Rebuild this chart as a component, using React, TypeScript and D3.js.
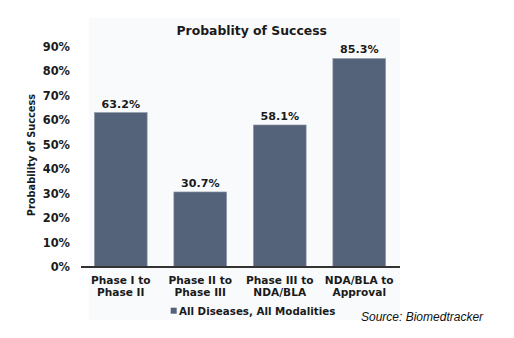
import React from "react";
import * as d3 from "d3";

const categories: string[][] = [
  ["Phase I to", "Phase II"],
  ["Phase II to", "Phase III"],
  ["Phase III to", "NDA/BLA"],
  ["NDA/BLA to", "Approval"],
];
const values: number[] = [63.2, 30.7, 58.1, 85.3];
const yTicks: number[] = [0, 10, 20, 30, 40, 50, 60, 70, 80, 90];
const title = "Probablity of Success";
const yTitle = "Probability of Success";
const legendLabel = "All Diseases, All Modalities";
const source = "Source: Biomedtracker";

const W = 514;
const H = 338;
const FONT = "'DejaVu Sans', Verdana, sans-serif";
const BAR = "#546379";

export default function App() {
  const keys = categories.map((_, i) => String(i));
  const x = d3
    .scaleBand<string>()
    .domain(keys)
    .range([81, 399])
    .paddingInner(0.336)
    .paddingOuter(0.168);
  const y = d3.scaleLinear().domain([0, 90]).range([267, 47]);

  return (
    <svg
      width={W}
      height={H}
      style={{ position: "absolute", left: 0, top: 0, background: "#fff" }}
      fontFamily={FONT}
    >
      <rect x={89} y={18} width={311} height={302} fill="#f9fafc" />
      <text x={251.7} y={34.5} textAnchor="middle" fontWeight="bold" fontSize={12.4} fill="#1a1a1a">
        {title}
      </text>
      {yTicks.map((t) => (
        <text
          key={t}
          x={70}
          y={y(t) + 4}
          textAnchor="end"
          fontWeight="bold"
          fontSize={11.4}
          fill="#1a1a1a"
        >
          {t}%
        </text>
      ))}
      <text
        transform={`translate(35,155) rotate(-90)`}
        textAnchor="middle"
        fontWeight="bold"
        fontSize={9.8}
        fill="#1a1a1a"
      >
        {yTitle}
      </text>
      {values.map((v, i) => (
        <g key={i}>
          <rect
            x={x(String(i))!}
            y={y(v)}
            width={x.bandwidth()}
            height={y(0) - y(v)}
            fill={BAR}
            stroke="#8f9aab"
            strokeWidth={0.6}
          />
          <text
            x={x(String(i))! + x.bandwidth() / 2}
            y={y(v) - 5}
            textAnchor="middle"
            fontWeight="bold"
            fontSize={11.1}
            fill="#1a1a1a"
          >
            {v.toFixed(1)}%
          </text>
          {categories[i].map((line, j) => (
            <text
              key={j}
              x={x(String(i))! + x.bandwidth() / 2}
              y={284 + j * 11.7}
              textAnchor="middle"
              fontWeight="bold"
              fontSize={10.6}
              fill="#1a1a1a"
            >
              {line}
            </text>
          ))}
        </g>
      ))}
      <line x1={81} x2={400} y1={267} y2={267} stroke="#333" strokeWidth={2} />
      <rect x={170.7} y={307.7} width={6} height={6} fill={BAR} />
      <text x={179} y={314.5} fontWeight="bold" fontSize={10.3} fill="#1a1a1a">
        {legendLabel}
      </text>
      <text
        x={361}
        y={321}
        fontFamily="'Liberation Sans', Arial, sans-serif"
        fontStyle="italic"
        fontSize={12}
        fill="#111"
      >
        {source}
      </text>
    </svg>
  );
}
